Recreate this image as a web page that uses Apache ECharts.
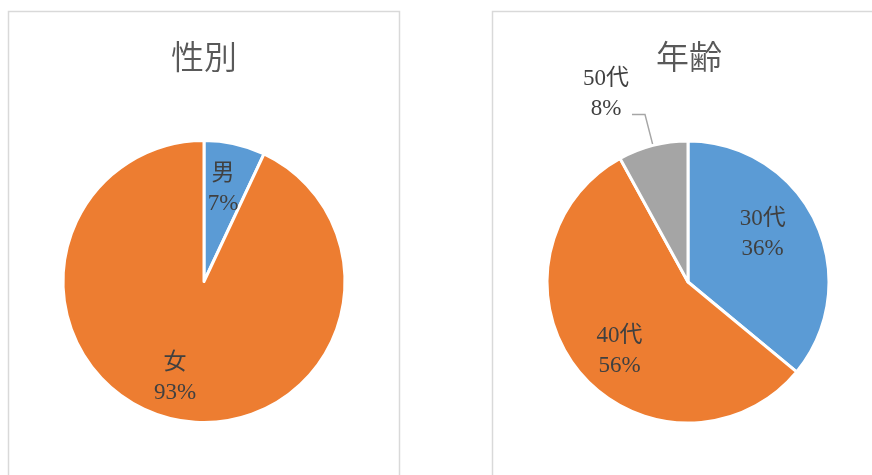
<!DOCTYPE html>
<html><head><meta charset="utf-8">
<script src="https://cdn.jsdelivr.net/npm/echarts@6/dist/echarts.min.js"></script>
<style>html,body{margin:0;padding:0;background:#fff}#c{width:872px;height:475px}</style>
</head><body><div id="c"></div>
<script>
const genderTitle = '性別';
const genderCategories = ['男', '女'];
const genderValues = [7, 93];
const ageTitle = '年齢';
const ageCategories = ['30代', '40代', '50代'];
const ageValues = [36, 56, 8];
const colors = ['#5B9BD5', '#ED7D31', '#A5A5A5'];

const labelFont = '"Liberation Serif", "Noto Sans CJK JP", serif';
const insideLabel = {
  show: true, position: 'inside', formatter: '{b}\n{d}%',
  color: '#404040', fontSize: 23, lineHeight: 30, fontFamily: labelFont
};
const toData = (cats, vals) => cats.map((n, i) => ({ name: n, value: vals[i], itemStyle: { color: colors[i] } }));
const toClearData = (cats, vals) => cats.map((n, i) => ({ name: n, value: vals[i] }));
const nudge = (offsets) => (p) => offsets[p.dataIndex] || {};
const titleStyle = { fontSize: 33, fontWeight: 350, color: '#595959', fontFamily: '"Noto Sans CJK JP"' };

const chart = echarts.init(document.getElementById('c'), null, { renderer: 'canvas' });
chart.setOption({
  animation: false,
  graphic: [
    { type: 'rect', shape: { x: 8.5, y: 11.5, width: 391, height: 500 }, style: { fill: 'none', stroke: '#d9d9d9', lineWidth: 1.5 }, z: -1 },
    { type: 'rect', shape: { x: 492.5, y: 11.5, width: 500, height: 500 }, style: { fill: 'none', stroke: '#d9d9d9', lineWidth: 1.5 }, z: -1 }
  ],
  title: [
    { text: genderTitle, left: 204, top: 40, textAlign: 'center', padding: 0, textStyle: titleStyle },
    { text: ageTitle, left: 689, top: 40, textAlign: 'center', padding: 0, textStyle: titleStyle }
  ],
  series: [
    { type: 'pie', center: [204, 281.5], radius: [0, 141], startAngle: 90, clockwise: true,
      avoidLabelOverlap: false, silent: true,
      itemStyle: { borderColor: '#fff', borderWidth: 3 },
      label: { show: false }, labelLine: { show: false },
      data: toData(genderCategories, genderValues) },
    { type: 'pie', center: [204, 281.5], radius: [0, 196], startAngle: 90, clockwise: true,
      avoidLabelOverlap: false, silent: true,
      itemStyle: { color: 'rgba(0,0,0,0)', borderWidth: 0 },
      label: insideLabel, labelLine: { show: false },
      labelLayout: nudge({ 0: { dx: -3, dy: 6 }, 1: { dx: -7, dy: -2 } }),
      data: toClearData(genderCategories, genderValues) },
    { type: 'pie', center: [688, 282], radius: [0, 141], startAngle: 90, clockwise: true,
      avoidLabelOverlap: false, silent: true,
      itemStyle: { borderColor: '#fff', borderWidth: 3 },
      label: { show: false }, labelLine: { show: false },
      data: toData(ageCategories, ageValues).map(d => d.name === '50代' ? Object.assign(d, {
        label: { show: true, position: 'outside', formatter: '{a|{b}}\n{a|{d}%}',
          padding: [0, 0, 40, 0], distanceToLabelLine: 3,
          rich: { a: { align: 'center', color: '#404040', fontSize: 23, lineHeight: 30, fontFamily: labelFont } } },
        labelLine: { show: true, length: 32, length2: 13, smooth: false,
          lineStyle: { color: '#a6a6a6', width: 1.5 } }
      }) : d) },
    { type: 'pie', center: [688, 282], radius: [0, 190], startAngle: 90, clockwise: true,
      avoidLabelOverlap: false, silent: true,
      itemStyle: { color: 'rgba(0,0,0,0)', borderWidth: 0 },
      label: insideLabel, labelLine: { show: false },
      labelLayout: nudge({ 0: { dx: -14, dy: -6 }, 1: { dx: 7, dy: 6 } }),
      data: toClearData(ageCategories, ageValues).map(d => d.name === '50代' ? Object.assign(d, { label: { show: false } }) : d) }
  ]
});
</script></body></html>
